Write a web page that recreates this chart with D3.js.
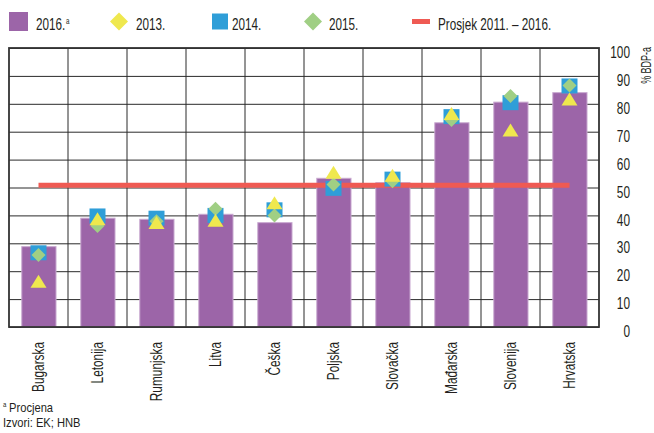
<!DOCTYPE html>
<html>
<head>
<meta charset="utf-8">
<script src="https://cdn.jsdelivr.net/npm/d3@7"></script>
<style>
  body { margin: 0; background: #fff; }
  text { font-family: "Liberation Sans", Arial, sans-serif; fill: #231f20; }
</style>
</head>
<body>
<div class="chart"></div>
<script>
const categories = ['Bugarska', 'Letonija', 'Rumunjska', 'Litva', 'Češka', 'Poljska', 'Slovačka', 'Mađarska', 'Slovenija', 'Hrvatska'];
const values2016 = [28.8, 39.0, 38.6, 40.4, 37.4, 53.3, 51.7, 73.2, 80.6, 84.0];
const values2013 = [16.4, 38.8, 37.5, 38.3, 44.5, 55.5, 54.4, 76.5, 70.6, 81.7];
const values2014 = [26.6, 39.8, 39.0, 40.0, 42.0, 49.7, 53.0, 75.4, 80.4, 86.4];
const values2015 = [25.8, 36.2, 37.9, 42.4, 40.0, 51.1, 52.2, 74.2, 82.8, 86.6];
const average = 50.8; // Prosjek 2011. – 2016.
const yTicks = [0, 10, 20, 30, 40, 50, 60, 70, 80, 90, 100];

const colors = {
  bar: '#9c65a8',
  barStroke: '#c9a9d0',
  y2013: '#efe84e',
  y2014: '#2f9ed8',
  y2015: '#a0cf84',
  avg: '#ef5a53'
};

const width = 654;
const height = 433;
const plot = { left: 9, right: 599, top: 48, bottom: 327 };

const svg = d3.select('.chart').append('svg')
  .attr('width', width)
  .attr('height', height);

const x = d3.scaleBand().domain(categories).range([plot.left, plot.right]).padding(0);
const y = d3.scaleLinear().domain([0, 100]).range([plot.bottom, plot.top]);

// marker shapes, centred on their bounding box
const squarePath = (cx, cy, w, h) => `M${cx - w / 2},${cy - h / 2}h${w}v${h}h${-w}Z`;
const diamondPath = (cx, cy, w, h) => `M${cx},${cy - h / 2}L${cx + w / 2},${cy}L${cx},${cy + h / 2}L${cx - w / 2},${cy}Z`;
const trianglePath = (cx, cy, w, h) => `M${cx},${cy - h / 2}L${cx + w / 2},${cy + h / 2}L${cx - w / 2},${cy + h / 2}Z`;

// the original uses a condensed face, so squeeze the text horizontally
const narrow = (px, py, sx, rot) => `translate(${px},${py})${rot ? ` rotate(${rot})` : ''} scale(${sx},1)`;

// horizontal grid
svg.append('g')
  .attr('class', 'grid')
  .attr('transform', `translate(${plot.left},0)`)
  .call(d3.axisLeft(y).tickValues(yTicks).tickSize(-(plot.right - plot.left)).tickFormat(''))
  .call(g => g.select('.domain').remove())
  .call(g => g.selectAll('line').attr('stroke', '#2a2a2a').attr('stroke-width', 1));

// vertical grid between categories
svg.append('g')
  .selectAll('line')
  .data(categories.slice(1))
  .enter()
  .append('line')
  .attr('x1', d => x(d))
  .attr('x2', d => x(d))
  .attr('y1', plot.top)
  .attr('y2', plot.bottom)
  .attr('stroke', '#2a2a2a')
  .attr('stroke-width', 1);

// bars (2016.)
const barW = x.bandwidth() * 0.58;
svg.append('g')
  .selectAll('rect')
  .data(categories)
  .enter()
  .append('rect')
  .attr('x', d => x(d) + (x.bandwidth() - barW) / 2 + 0.4)
  .attr('y', (d, i) => y(values2016[i]))
  .attr('width', barW)
  .attr('height', (d, i) => y(0) - y(values2016[i]))
  .attr('fill', colors.bar)
  .attr('stroke', colors.barStroke)
  .attr('stroke-width', 1);

// frame
svg.append('rect')
  .attr('x', plot.left)
  .attr('y', plot.top)
  .attr('width', plot.right - plot.left)
  .attr('height', plot.bottom - plot.top)
  .attr('fill', 'none')
  .attr('stroke', '#333')
  .attr('stroke-width', 1.8);

// average line
const cx = d => x(d) + x.bandwidth() / 2;
svg.append('line')
  .attr('x1', cx(categories[0]))
  .attr('x2', cx(categories[categories.length - 1]))
  .attr('y1', y(average))
  .attr('y2', y(average))
  .attr('stroke', colors.avg)
  .attr('stroke-width', 5);

// markers: 2014 squares, 2015 diamonds, 2013 triangles
svg.append('g')
  .selectAll('path')
  .data(categories)
  .enter()
  .append('path')
  .attr('d', (d, i) => squarePath(cx(d), y(values2014[i]), 16, 15))
  .attr('fill', colors.y2014);

svg.append('g')
  .selectAll('path')
  .data(categories)
  .enter()
  .append('path')
  .attr('d', (d, i) => diamondPath(cx(d), y(values2015[i]), 14, 14))
  .attr('fill', colors.y2015);

svg.append('g')
  .selectAll('path')
  .data(categories)
  .enter()
  .append('path')
  .attr('d', (d, i) => trianglePath(cx(d), y(values2013[i]), 16, 13))
  .attr('fill', colors.y2013);

// right y axis labels
svg.append('g')
  .attr('transform', `translate(${plot.right},0)`)
  .call(d3.axisRight(y).tickValues(yTicks).tickSize(0).tickFormat(d3.format('d')))
  .call(g => g.select('.domain').remove())
  .call(g => g.selectAll('text')
    .attr('x', 0)
    .attr('dy', '0.48em')
    .attr('transform', narrow(31, 2, 0.74))
    .attr('text-anchor', 'end')
    .attr('font-size', 16)
    .attr('font-family', null)
    .style('fill', '#231f20'));

svg.append('text')
  .attr('transform', narrow(651, 47, 0.64, -90))
  .attr('text-anchor', 'end')
  .attr('font-size', 14)
  .text('% BDP-a');

// category labels
svg.append('g')
  .attr('transform', `translate(0,${plot.bottom})`)
  .call(d3.axisBottom(x).tickSize(0))
  .call(g => g.select('.domain').remove())
  .call(g => g.selectAll('text')
    .attr('font-size', 16)
    .attr('font-family', null)
    .attr('text-anchor', 'end')
    .attr('transform', narrow(0, 15, 0.74, -90))
    .attr('x', 0)
    .attr('y', 0)
    .attr('dy', '0.36em')
    .style('fill', '#231f20'));

// legend
const legend = [
  { label: '2016.', type: 'square', color: colors.bar, x: 9, w: 19, h: 19, tx: 36, sup: true },
  { label: '2013.', type: 'diamond', color: colors.y2013, x: 110, w: 18, h: 18, tx: 136 },
  { label: '2014.', type: 'square', color: colors.y2014, x: 212, w: 16, h: 16, tx: 232 },
  { label: '2015.', type: 'diamond', color: colors.y2015, x: 304, w: 18, h: 18, tx: 329 },
  { label: 'Prosjek 2011. – 2016.', type: 'line', color: colors.avg, x: 412, w: 18, h: 5, tx: 438 }
];
const legendY = 21.5;
const lg = svg.append('g').attr('class', 'legend');
legend.forEach(item => {
  const c = item.x + item.w / 2;
  const shape = item.type === 'diamond' ? diamondPath : squarePath;
  lg.append('path')
    .attr('d', shape(c, legendY, item.w, item.h))
    .attr('fill', item.color);
  const t = lg.append('text')
    .attr('transform', narrow(item.tx, 29.5, 0.69))
    .attr('font-size', 17)
    .text(item.label);
  if (item.sup) {
    t.append('tspan').attr('font-size', 9).attr('dy', -6).attr('dx', 1).text('a');
  }
});

// footnotes
const note = svg.append('text').attr('transform', narrow(3, 412, 0.86)).attr('font-size', 13);
note.append('tspan').attr('font-size', 7).attr('dy', -5).text('a');
note.append('tspan').attr('x', 7).attr('dy', 5).text('Procjena');
svg.append('text').attr('transform', narrow(3, 427, 0.86)).attr('font-size', 13).text('Izvori: EK; HNB');
</script>
</body>
</html>
